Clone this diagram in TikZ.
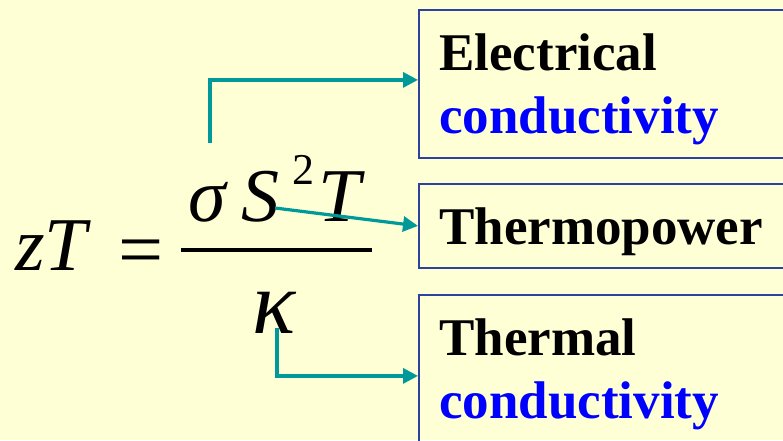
\documentclass[tikz,border=0pt]{standalone}
\usepackage{fontspec}
\setmainfont{Liberation Serif}
\usetikzlibrary{arrows.meta}
\definecolor{paper}{RGB}{255,255,214}
\definecolor{linkteal}{RGB}{0,153,153}
\definecolor{frame}{RGB}{45,65,160}
\definecolor{word}{RGB}{0,0,255}
\tikzset{
  box/.style={draw=frame, line width=1.8pt, minimum width=420pt, anchor=north west, inner sep=0pt},
  link/.style={draw=linkteal, line width=3.2pt, -{Triangle[length=15pt,width=15pt]}},
  big/.style={font=\fontsize{53}{63}\selectfont\bfseries, anchor=base west, inner sep=0pt},
  sym/.style={font=\fontsize{76}{80}\selectfont\itshape, anchor=base west, inner sep=0pt}
}
\begin{document}
\begin{tikzpicture}[x=1pt,y=-1pt]
    \fill[paper] (0,0) rectangle (783,440);
    \useasboundingbox (0,0) rectangle (783,440);
    \clip (0,0) rectangle (783,440);

    % boxes
    \node[box, minimum height=148pt] (elecbox) at (418,9) {};
    \node[box, minimum height=84pt] (powbox) at (418,183) {};
    \node[box, minimum height=162pt] (thbox) at (418,294) {};

    \node[big] (elec) at (439,70) {Electrical};
    \node[big, text=word] (elecc) at (439,133) {conductivity};
    \node[big] (pow) at (439,244) {Thermopower};
    \node[big] (th) at (439,355) {Thermal};
    \node[big, text=word] (thc) at (439,418) {conductivity};

    % formula
    \node[sym] (zt) at (15,270) {zT};
    \node[font=\fontsize{80}{84}\selectfont, anchor=base west, inner sep=0pt] (eq) at (118,276) {=};
    \draw[line width=3.4pt] (181,250) -- (372,250);
    \node[sym] (sigma) at (188,221) {σ};
    \node[sym] (S) at (241,221) {S};
    \node[font=\fontsize{44}{48}\selectfont, anchor=base west, inner sep=0pt] (sq) at (292,184) {2};
    \node[sym] (T) at (318,221) {T};
    \node[sym, font=\fontsize{90}{94}\selectfont\itshape] (kappa) at (252,333) {κ};

    \coordinate (up) at (210,143);
    \coordinate (mid) at (275,208);
    \coordinate (low) at (277,328);

    % arrows
    \draw[link] (up) |- ([yshift=4pt]elecbox.west);
    \draw[link] (mid) -- (powbox.west);
    \draw[link] (low) |- (thbox.west);
\end{tikzpicture}
\end{document}
